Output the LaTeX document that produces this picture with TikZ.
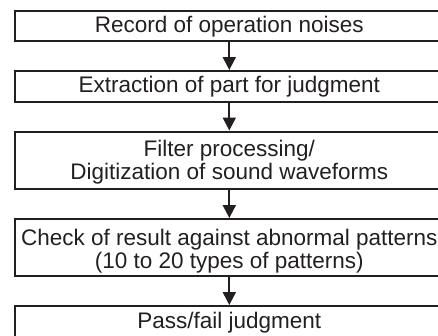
\documentclass[tikz,border=0pt]{standalone}
\usepackage{fontspec}
\setmainfont{Liberation Sans}
\usetikzlibrary{arrows.meta}
\definecolor{ink}{RGB}{35,31,32}
\newcommand{\lowertext}[2]{\raisebox{-#1}[\height][\depth]{\begin{tabular}{@{}c@{}}#2\end{tabular}}}
\tikzset{
  box/.style={draw=ink, line width=2pt, minimum width=429pt, inner sep=0pt,
    align=center, text=ink, font=\fontsize{22.5}{22.5}\selectfont},
  arr/.style={draw=ink, line width=2pt, -{Triangle[width=13pt,length=13pt]}}
}
\begin{document}
\begin{tikzpicture}[x=1pt,y=-1pt]
\useasboundingbox (0,0) rectangle (438,335);
\clip (0,0) rectangle (438,335);
\node[box, minimum height=29.5pt] (b1) at (229.3,25.75) {\lowertext{1.5pt}{Record of operation noises}};
\node[box, minimum height=30.5pt] (b2) at (229.3,86.25) {\lowertext{1.5pt}{Extraction of part for judgment}};
\node[box, minimum height=57pt] (b3) at (229.3,160) {\lowertext{3.5pt}{Filter processing/\\Digitization of sound waveforms}};
\node[box, minimum height=57pt] (b4) at (229.3,247.5) {\lowertext{5pt}{Check of result against abnormal patterns\\(10 to 20 types of patterns)}};
\node[box, minimum height=32pt] (b5) at (229.3,322) {\lowertext{1.5pt}{Pass/fail judgment}};
\draw[arr] (b1.south) -- (b2.north);
\draw[arr] (b2.south) -- (b3.north);
\draw[arr] (b3.south) -- (b4.north);
\draw[arr] (b4.south) -- (b5.north);
\end{tikzpicture}
\end{document}
